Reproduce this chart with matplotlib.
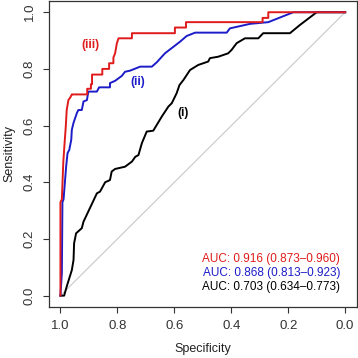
import matplotlib
matplotlib.use("Agg")
import matplotlib.pyplot as plt

plt.rcParams['font.family'] = ['Liberation Sans', 'DejaVu Sans']

# ROC curve (iii) - red
spec_iii = [1.0, 1.0, 0.995, 0.990, 0.986, 0.981, 0.978, 0.972, 0.965, 0.960, 0.956,
            0.906, 0.906, 0.893, 0.893, 0.889, 0.889, 0.853, 0.853, 0.829, 0.829,
            0.814, 0.814, 0.808, 0.802, 0.796, 0.749, 0.749, 0.598, 0.598, 0.559,
            0.559, 0.290, 0.290, 0.270, 0.270, 0.0]
sens_iii = [0.0, 0.33, 0.34, 0.47, 0.53, 0.60, 0.655, 0.69, 0.70, 0.71, 0.71,
            0.71, 0.73, 0.73, 0.746, 0.746, 0.78, 0.78, 0.80, 0.80, 0.82,
            0.82, 0.84, 0.855, 0.89, 0.908, 0.908, 0.926, 0.926, 0.946, 0.946,
            0.965, 0.965, 0.98, 0.98, 1.0, 1.0]

# ROC curve (ii) - blue
spec_ii = [1.0, 0.995, 0.993, 0.989, 0.980, 0.975, 0.969, 0.962, 0.960, 0.954,
           0.942, 0.937, 0.925, 0.919, 0.907, 0.902, 0.872, 0.864, 0.826, 0.826,
           0.808, 0.785, 0.773, 0.755, 0.720, 0.679, 0.662, 0.633, 0.580, 0.557,
           0.527, 0.416, 0.405, 0.334, 0.270, 0.182, 0.0]
sens_ii = [0.0, 0.08, 0.33, 0.34, 0.455, 0.503, 0.514, 0.55, 0.585, 0.61,
           0.645, 0.655, 0.655, 0.685, 0.69, 0.72, 0.72, 0.735, 0.735, 0.75,
           0.758, 0.775, 0.79, 0.794, 0.808, 0.808, 0.823, 0.855, 0.896, 0.916,
           0.928, 0.928, 0.943, 0.959, 0.965, 1.0, 1.0]

# ROC curve (i) - black
spec_i = [1.0, 0.987, 0.978, 0.960, 0.954, 0.952, 0.945, 0.925, 0.919, 0.872,
          0.861, 0.843, 0.826, 0.820, 0.808, 0.773, 0.749, 0.737, 0.726, 0.714,
          0.697, 0.674, 0.644, 0.621, 0.609, 0.592, 0.582, 0.568, 0.545, 0.516,
          0.481, 0.475, 0.446, 0.411, 0.399, 0.381, 0.352, 0.305, 0.288, 0.194,
          0.159, 0.100, 0.0]
sens_i = [0.0, 0.0, 0.032, 0.09, 0.126, 0.185, 0.22, 0.238, 0.261, 0.361,
          0.367, 0.40, 0.408, 0.438, 0.447, 0.455, 0.473, 0.49, 0.496, 0.538,
          0.579, 0.582, 0.632, 0.667, 0.679, 0.714, 0.743, 0.761, 0.796, 0.814,
          0.826, 0.838, 0.843, 0.855, 0.867, 0.891, 0.908, 0.908, 0.926, 0.926,
          0.955, 1.0, 1.0]

curve_names = ["(i)", "(ii)", "(iii)"]
auc_labels = ["AUC: 0.916 (0.873\u20130.960)",
              "AUC: 0.868 (0.813\u20130.923)",
              "AUC: 0.703 (0.634\u20130.773)"]
ticks = [1.0, 0.8, 0.6, 0.4, 0.2, 0.0]

red = "#e01b1b"
blue = "#1c1cc8"
black = "#000000"

fig = plt.figure(figsize=(3.58, 3.58), dpi=100)
ax = fig.add_axes([0.137, 0.1425, 0.859, 0.855])

# diagonal reference line
ax.plot([1, 0], [0, 1], color="#c8c8c8", lw=0.8, zorder=1)

ax.plot(spec_i, sens_i, color=black, lw=1.4, zorder=2)
ax.plot(spec_ii, sens_ii, color=blue, lw=1.4, zorder=3)
ax.plot(spec_iii, sens_iii, color=red, lw=1.4, zorder=4)

# curve labels
ax.text(0.895, 0.885, curve_names[2], color=red, fontsize=8.5, fontweight="bold",
        ha="center", va="center")
ax.text(0.727, 0.754, curve_names[1], color=blue, fontsize=8.5, fontweight="bold",
        ha="center", va="center")
ax.text(0.569, 0.645, curve_names[0], color=black, fontsize=8.5, fontweight="bold",
        ha="center", va="center")

# AUC text block
for lab, col, yy in zip(auc_labels, [red, blue, black], [0.128, 0.079, 0.030]):
    ax.text(0.018, yy, lab, color=col, fontsize=8.5, ha="right", va="center")

ax.set_xlim(1.04, -0.04)
ax.set_ylim(-0.04, 1.04)
ax.set_xticks(ticks)
ax.set_yticks(ticks)
ax.set_xticklabels(["%.1f" % t for t in ticks])
ax.set_yticklabels(["%.1f" % t for t in ticks], rotation=90, va="center")
ax.tick_params(labelsize=9.5, colors="#333333", length=4.5, width=0.8, pad=5)
for s in ax.spines.values():
    s.set_color("#333333")
    s.set_linewidth(0.9)

ax.set_xlabel("Specificity", fontsize=9, color="#222222", labelpad=8)
ax.set_ylabel("Sensitivity", fontsize=9, color="#222222", labelpad=6)

fig.savefig("out.png", dpi=100)
